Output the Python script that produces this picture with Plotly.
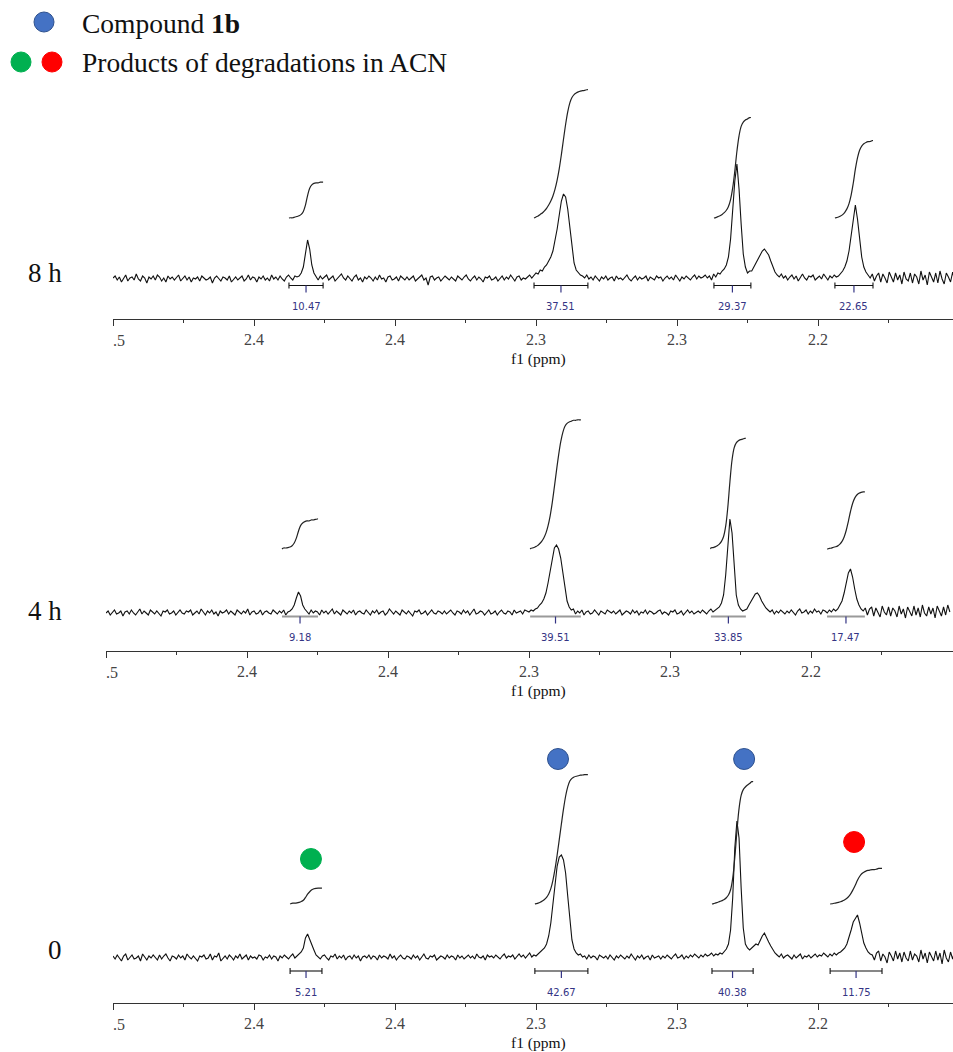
import numpy as np
import plotly.graph_objects as go

W, H = 953, 1052

# Chemical-shift sampling grid (ppm), one point per intensity value
PPM_START = 2.50
PPM_STEP = 0.00075

# 1H spectra (intensity, arbitrary units, baseline = 0)
spec_8h = [
    1, 3, -1, 2, -3, 0, 4, -2, 1, 2, -1, 5, 0, -2, 3, 1, -4, 2, 0, 3,
    -1, 4, 2, -2, 1, -3, 3, 0, 2, -1, 1, 4, -2, 0, 3, -1, 2, -3, 1, 0,
    2, -2, 3, 1, -1, 0, 2, -4, 1, 3, 0, -2, 2, 1, -1, 3, -3, 0, 2, -1,
    1, 3, -2, 0, 4, -1, 2, 1, -3, 2, 0, 3, -1, 1, -2, 4, 0, 2, -1, 3,
    0, -2, 2, 4, 1, -1, 3, 2, 3, 6, 12, 26, 39, 30, 14, 6, 2, -1, 3, 0,
    2, 4, -1, 1, 3, -2, 0, 2, 5, 1, -1, 3, 0, -2, 2, 4, -1, 1, -3, 2,
    0, 3, 1, -2, 2, -1, 4, 0, 1, -3, 2, 3, -1, 0, 2, -2, 3, 1, -1, 2,
    -1, 1, 3, -2, 0, 2, 4, -1, 1, -6, 2, 3, -1, 1, 2, -2, 0, 3, 1, -1,
    2, 0, -2, 3, 1, -1, 2, 4, 0, -2, 1, 3, -1, 2, 0, -3, 2, 1, 3, -1,
    0, 2, -2, 1, 3, -1, 2, 0, 4, 1, -2, 2, 3, -1, 1, 0, 2, 4, 1, 3,
    6, 5, 9, 8, 12, 14, 18, 22, 28, 38, 50, 64, 78, 85, 82, 70, 50, 30, 16, 9,
    6, 4, 3, 1, 4, 0, 2, -1, 3, 1, -2, 2, 0, 3, -1, 1, 2, -2, 3, 0,
    1, -1, 2, 4, 0, -2, 1, 3, -1, 2, 0, 1, 3, -2, 2, 0, -1, 3, 1, 2,
    -2, 1, 3, 0, 2, -1, 4, 1, -2, 2, 0, 3, 1, -1, 2, 4, 0, 3, 1, 2,
    4, 1, 3, -1, 5, 2, 6, 5, 8, 10, 14, 22, 40, 68, 98, 115, 90, 55, 25, 12,
    6, 8, 8, 12, 16, 20, 24, 28, 30, 27, 24, 18, 12, 7, 4, 2, 5, 1, 3, -1,
    2, 4, 0, 3, -2, 2, 5, 1, -1, 3, 2, 4, -1, 1, 3, 0, 5, 2, -1, 3,
    1, 4, 2, 3, 5, 8, 12, 18, 28, 45, 62, 74, 60, 40, 22, 12, 7, 4, 1, 5,
    -2, 3, 6, -3, 5, 1, -4, 7, 2, -3, 6, -1, 4, -5, 7, 0, -2, 6, -4, 5,
    2, -5, 8, -1, 4, -6, 7, 1, -3, 6, -4, 8, 0, -5, 6, 2, -3, 7, -2, 5,
]
spec_4h = [
    0, 2, -2, 1, 3, -1, 0, 2, -3, 1, 2, -1, 3, 0, -2, 1, 4, -1, 2, 0,
    -2, 3, 1, -1, 2, 0, -3, 2, 1, 3, -1, 0, 2, -2, 1, 3, 0, -1, 2, 1,
    3, -2, 0, 2, -1, 4, 1, -2, 2, 0, 3, -1, 1, -3, 2, 0, 1, 3, -1, 2,
    0, -2, 3, 1, -1, 2, 0, 4, -2, 1, 2, -1, 0, 3, -2, 1, 2, 0, -1, 3,
    1, -1, 2, 0, 3, -2, 1, 2, 4, 8, 15, 21, 17, 8, 4, 2, -1, 3, 0, 2,
    1, -2, 3, 0, 2, -1, 1, 4, -1, 2, 0, -2, 3, 1, -1, 2, 0, 3, -2, 1,
    2, 0, -1, 3, 1, -2, 2, 0, 3, -1, 1, 2, -2, 0, 4, 1, -1, 2, 0, -2,
    3, 1, -1, 2, 0, -3, 2, 1, 3, -1, 0, 2, -2, 1, 3, 0, -1, 2, 1, -1,
    2, -1, 1, 3, 0, -2, 2, 1, -1, 3, 0, 2, -2, 1, 4, -1, 0, 2, 1, -2,
    1, 3, -1, 0, 2, -2, 1, 3, 0, -1, 2, 1, -2, 3, 0, 1, 2, -1, 3, 2,
    1, 3, 2, 4, 5, 8, 10, 14, 20, 30, 42, 55, 65, 68, 64, 55, 40, 25, 12, 6,
    3, 4, -1, 2, 0, 3, -2, 1, 2, -1, 0, 3, 1, -2, 2, 0, -1, 3, 1, 0,
    2, -1, 1, 3, -2, 0, 2, 1, -1, 3, 0, 2, -2, 1, 0, 3, -1, 2, 1, -1,
    0, 2, 3, -1, 1, 0, -2, 2, 1, 3, -1, 0, 2, -2, 1, 3, 0, 2, -1, 1,
    2, 0, 3, 1, -1, 2, 4, 1, 3, 4, 6, 10, 18, 38, 70, 94, 80, 45, 18, 8,
    4, 2, 3, 4, 8, 12, 16, 19, 20, 17, 12, 8, 5, 3, 1, 3, -1, 2, 0, 3,
    1, -1, 2, 0, 3, 1, -2, 2, 4, 0, 1, 3, -1, 2, 0, 4, 1, 2, -1, 3,
    2, 0, 3, 1, 4, 2, 4, 8, 12, 20, 30, 40, 44, 36, 24, 14, 8, 4, 2, 5,
    -2, 4, 6, -3, 5, 0, -4, 7, 1, -2, 6, -3, 5, 2, -4, 7, -1, 4, -5, 6,
    1, -3, 7, -2, 5, -4, 8, 0, -3, 6, -1, 5, -5, 7, 2, -3, 6, -2, 8, 1,
]
spec_0h = [
    2, -1, 3, 0, -3, 2, 4, -2, 1, 3, -1, 0, 2, -3, 4, 1, -2, 2, 0, 3,
    1, -2, 3, -1, 2, 4, 0, -3, 2, 1, -1, 3, 0, 2, -2, 4, 1, -1, 2, 0,
    -3, 2, 1, 3, -1, 0, 4, -2, 2, 1, 5, -3, 0, 2, -1, 3, 1, -2, 2, 0,
    4, -1, 1, 3, -2, 2, 0, 1, -1, 3, 2, -2, 1, 0, 3, -1, 2, 1, -3, 2,
    0, 3, 1, -1, 2, 4, 0, 2, 4, 6, 10, 20, 24, 18, 14, 8, 3, 1, -1, 2,
    3, 0, -2, 2, 1, 4, -1, 2, 0, 3, -2, 1, 2, -1, 3, 0, 2, -3, 1, 2,
    0, 3, -1, 2, 1, -2, 3, 0, 2, 1, -1, 4, 0, 2, -2, 1, 3, 0, -1, 2,
    1, -1, 3, 0, 2, -2, 1, 4, 0, -1, 2, 1, 3, -2, 0, 2, 1, -1, 3, 0,
    2, 1, -2, 3, 0, 2, -1, 1, 3, 0, 2, -1, 4, 1, 0, 2, -2, 3, 1, 2,
    0, 3, 1, -1, 2, 4, 0, 2, 1, 3, -1, 2, 4, 1, 3, 0, 2, 5, 1, 3,
    2, 4, 6, 8, 10, 14, 22, 35, 55, 75, 92, 101, 103, 98, 85, 62, 38, 18, 9, 5,
    3, 4, 1, 2, -1, 3, 0, 2, 1, -2, 3, 1, 0, 2, -1, 3, 1, -2, 2, 0,
    3, 1, -1, 2, 0, 4, 1, -2, 2, 0, 3, -1, 1, 2, -2, 3, 0, 1, 2, -1,
    2, 0, 3, 1, -1, 2, 4, 0, 1, 3, -1, 2, 0, 3, 1, 4, 2, 0, 3, 1,
    4, 2, 3, 5, 2, 4, 3, 5, 4, 6, 9, 14, 28, 60, 110, 137, 120, 70, 30, 14,
    10, 8, 10, 12, 14, 13, 18, 22, 25, 20, 16, 12, 8, 5, 3, 1, 4, 0, 2, 3,
    1, -1, 3, 0, 2, 4, -1, 2, 1, 3, 0, 2, 4, 1, 3, 2, 5, 3, 1, 4,
    2, 5, 3, 5, 6, 8, 10, 14, 20, 28, 36, 40, 43, 35, 25, 15, 10, 6, 4, 3,
    -2, 5, 7, -3, 4, 1, -5, 6, 2, -3, 7, -1, 5, -4, 6, 0, -3, 7, -2, 4,
    2, -4, 8, -1, 5, -5, 6, 1, -3, 7, -2, 5, -6, 8, 0, -4, 6, -1, 7, 2,
]

# Integration regions (ppm, high -> low) and integral values
int_from_8h = [2.4376, 2.3507, 2.2869, 2.2440]
int_to_8h = [2.4255, 2.3316, 2.2738, 2.2305]
int_val_8h = [10.47, 37.51, 29.37, 22.65]

int_from_4h = [2.4376, 2.3496, 2.2855, 2.2443]
int_to_4h = [2.4248, 2.3316, 2.2731, 2.2309]
int_val_4h = [9.18, 39.51, 33.85, 17.47]

int_from_0h = [2.4372, 2.3504, 2.2876, 2.2457]
int_to_0h = [2.4259, 2.3316, 2.2730, 2.2273]
int_val_0h = [5.21, 42.67, 40.38, 11.75]

# Axis ticks
tick_ppm = [2.50, 2.45, 2.40, 2.35, 2.30, 2.25]
tick_text = ["", "2.4", "2.4", "2.3", "2.3", "2.2"]
minor_ppm = [2.475, 2.425, 2.375, 2.325, 2.275, 2.225]

# Peak assignment markers on the t = 0 spectrum
mark_ppm = [2.3422, 2.2762, 2.4298, 2.2372]
mark_int = [199, 199, 99, 116]
mark_color = ["#4472C4", "#4472C4", "#00B050", "#FF0000"]
mark_edge = ["#2F528F", "#2F528F", "#00B050", "#FF0000"]

SERIF = "Liberation Serif, Times New Roman, serif"
NAVY = "#343484"


def px_x(p):
    return p / W


def px_y(p):
    return 1 - p / H


# Panel geometry in pixels: axis line, top of plot area, baseline, left edge
panels = [
    dict(label="8 h", spec=spec_8h, f=int_from_8h, t=int_to_8h, v=int_val_8h,
         left=113, axis=319, top=80, base=279, scale=3.42, ioff=61,
         br=-6.5, lab=-27, br_color="#111111", br_w=1.1, br_tick=True,
         label_xy=(45, 273)),
    dict(label="4 h", spec=spec_4h, f=int_from_4h, t=int_to_4h, v=int_val_4h,
         left=106, axis=651, top=400, base=613, scale=3.27, ioff=64,
         br=-3.5, lab=-24, br_color="#9a9a9a", br_w=2.2, br_tick=False,
         label_xy=(45, 611)),
    dict(label="0", spec=spec_0h, f=int_from_0h, t=int_to_0h, v=int_val_0h,
         left=113, axis=1003, top=740, base=958, scale=3.03, ioff=54,
         br=-13, lab=-34, br_color="#111111", br_w=1.1, br_tick=True,
         label_xy=(55, 950)),
]

PX_PER_PPM = 2820.0

fig = go.Figure()
annotations = []

for i, pn in enumerate(panels):
    n = i + 1
    xa = "x" if n == 1 else f"x{n}"
    ya = "y" if n == 1 else f"y{n}"
    spec = np.array(pn["spec"], dtype=float)
    ppm = PPM_START - PPM_STEP * np.arange(len(spec))

    # spectrum trace
    fig.add_trace(go.Scatter(x=ppm, y=spec, mode="lines",
                             line=dict(color="#111111", width=1.1),
                             xaxis=xa, yaxis=ya, showlegend=False,
                             hoverinfo="skip"))

    # integral curves: running sum of the signal inside each region
    for a, b, val in zip(pn["f"], pn["t"], pn["v"]):
        sel = (ppm <= a) & (ppm >= b)
        cs = np.cumsum(np.clip(spec[sel], 0, None))
        xs = np.concatenate([[a], ppm[sel], [b]])
        ys = np.concatenate([[0.0], cs, [cs[-1]]])
        ys = ys / ys[-1] * val * pn["scale"] + pn["ioff"]
        fig.add_trace(go.Scatter(x=xs, y=ys, mode="lines",
                                 line=dict(color="#222222", width=1.2,
                                           shape="spline", smoothing=1.0),
                                 xaxis=xa, yaxis=ya, showlegend=False,
                                 hoverinfo="skip"))

        # integration bracket
        by = pn["br"]
        bx = [a, b]
        byy = [by, by]
        if pn["br_tick"]:
            bx = [a, a, None, a, b, None, b, b]
            byy = [by - 3, by + 3, None, by, by, None, by - 3, by + 3]
        fig.add_trace(go.Scatter(x=bx, y=byy, mode="lines",
                                 line=dict(color=pn["br_color"], width=pn["br_w"]),
                                 xaxis=xa, yaxis=ya, showlegend=False,
                                 hoverinfo="skip"))
        mid = (a + b) / 2
        fig.add_trace(go.Scatter(x=[mid, mid], y=[by, by - 7], mode="lines",
                                 line=dict(color=NAVY, width=1.2),
                                 xaxis=xa, yaxis=ya, showlegend=False,
                                 hoverinfo="skip"))
        annotations.append(dict(x=mid, y=pn["lab"], xref=xa, yref=ya,
                                text=f"{val:.2f}", showarrow=False,
                                xanchor="center", yanchor="middle",
                                font=dict(family="DejaVu Sans, Verdana, sans-serif",
                                          size=10, color=NAVY)))

    # axes
    x_end = PPM_START - (W - pn["left"]) / PX_PER_PPM
    axis_key = "xaxis" if n == 1 else f"xaxis{n}"
    yaxis_key = "yaxis" if n == 1 else f"yaxis{n}"
    bottom = -(pn["axis"] - pn["base"])
    top = pn["base"] - pn["top"]
    fig.update_layout(**{
        axis_key: dict(domain=[pn["left"] / W, 1], range=[PPM_START, x_end],
                       anchor=ya, showline=True, linecolor="#333333",
                       linewidth=1, showgrid=False, zeroline=False,
                       ticks="outside", ticklen=6, tickwidth=1,
                       tickcolor="#333333", tickvals=tick_ppm,
                       ticktext=tick_text,
                       tickfont=dict(family=SERIF, size=16, color="#444444"),
                       minor=dict(tickvals=minor_ppm, ticks="outside",
                                  ticklen=3, tickcolor="#333333", tickwidth=1),
                       fixedrange=True),
        yaxis_key: dict(domain=[px_y(pn["axis"]), px_y(pn["top"])],
                        range=[bottom, top], anchor=xa, visible=False,
                        fixedrange=True),
    })

    # clipped leftmost tick label and axis title
    annotations.append(dict(x=PPM_START, y=bottom, xref=xa, yref=ya,
                            text=".5", showarrow=False, xanchor="left",
                            yanchor="top", yshift=-11, xshift=-2,
                            font=dict(family=SERIF, size=16, color="#444444")))
    annotations.append(dict(x=px_x(538), y=px_y(pn["axis"] + 39.5), xref="paper",
                            yref="paper", text="f1 (ppm)", showarrow=False,
                            xanchor="center", yanchor="middle",
                            font=dict(family=SERIF, size=15.5, color="#111111")))
    # time label
    lx, ly = pn["label_xy"]
    annotations.append(dict(x=px_x(lx), y=px_y(ly), xref="paper", yref="paper",
                            text=pn["label"], showarrow=False,
                            xanchor="center", yanchor="middle",
                            font=dict(family=SERIF, size=27, color="#111111")))

# assignment markers on the t = 0 spectrum
fig.add_trace(go.Scatter(x=mark_ppm, y=mark_int, mode="markers",
                         marker=dict(size=21, color=mark_color,
                                     line=dict(color=mark_edge, width=1)),
                         xaxis="x3", yaxis="y3", showlegend=False,
                         cliponaxis=False, hoverinfo="skip"))

# key at the top
shapes = []
for cx, cy, col, edge in [(44, 22, "#4472C4", "#2F528F"),
                          (21, 62, "#00B050", "#00B050"),
                          (52, 62, "#FF0000", "#FF0000")]:
    r = 10
    shapes.append(dict(type="circle", xref="paper", yref="paper",
                       x0=px_x(cx - r), x1=px_x(cx + r),
                       y0=px_y(cy + r), y1=px_y(cy - r),
                       fillcolor=col, line=dict(color=edge, width=1)))
annotations.append(dict(x=px_x(80), y=px_y(23), xref="paper", yref="paper",
                        text="Compound <b>1b</b>", showarrow=False,
                        xanchor="left", yanchor="middle",
                        font=dict(family=SERIF, size=27.5, color="#111111")))
annotations.append(dict(x=px_x(80), y=px_y(62), xref="paper", yref="paper",
                        text="Products of degradations in ACN", showarrow=False,
                        xanchor="left", yanchor="middle",
                        font=dict(family=SERIF, size=27.5, color="#111111")))

fig.update_layout(width=W, height=H, margin=dict(l=0, r=0, t=0, b=0),
                  paper_bgcolor="white", plot_bgcolor="white",
                  annotations=annotations, shapes=shapes)

fig.write_html("out.html")
